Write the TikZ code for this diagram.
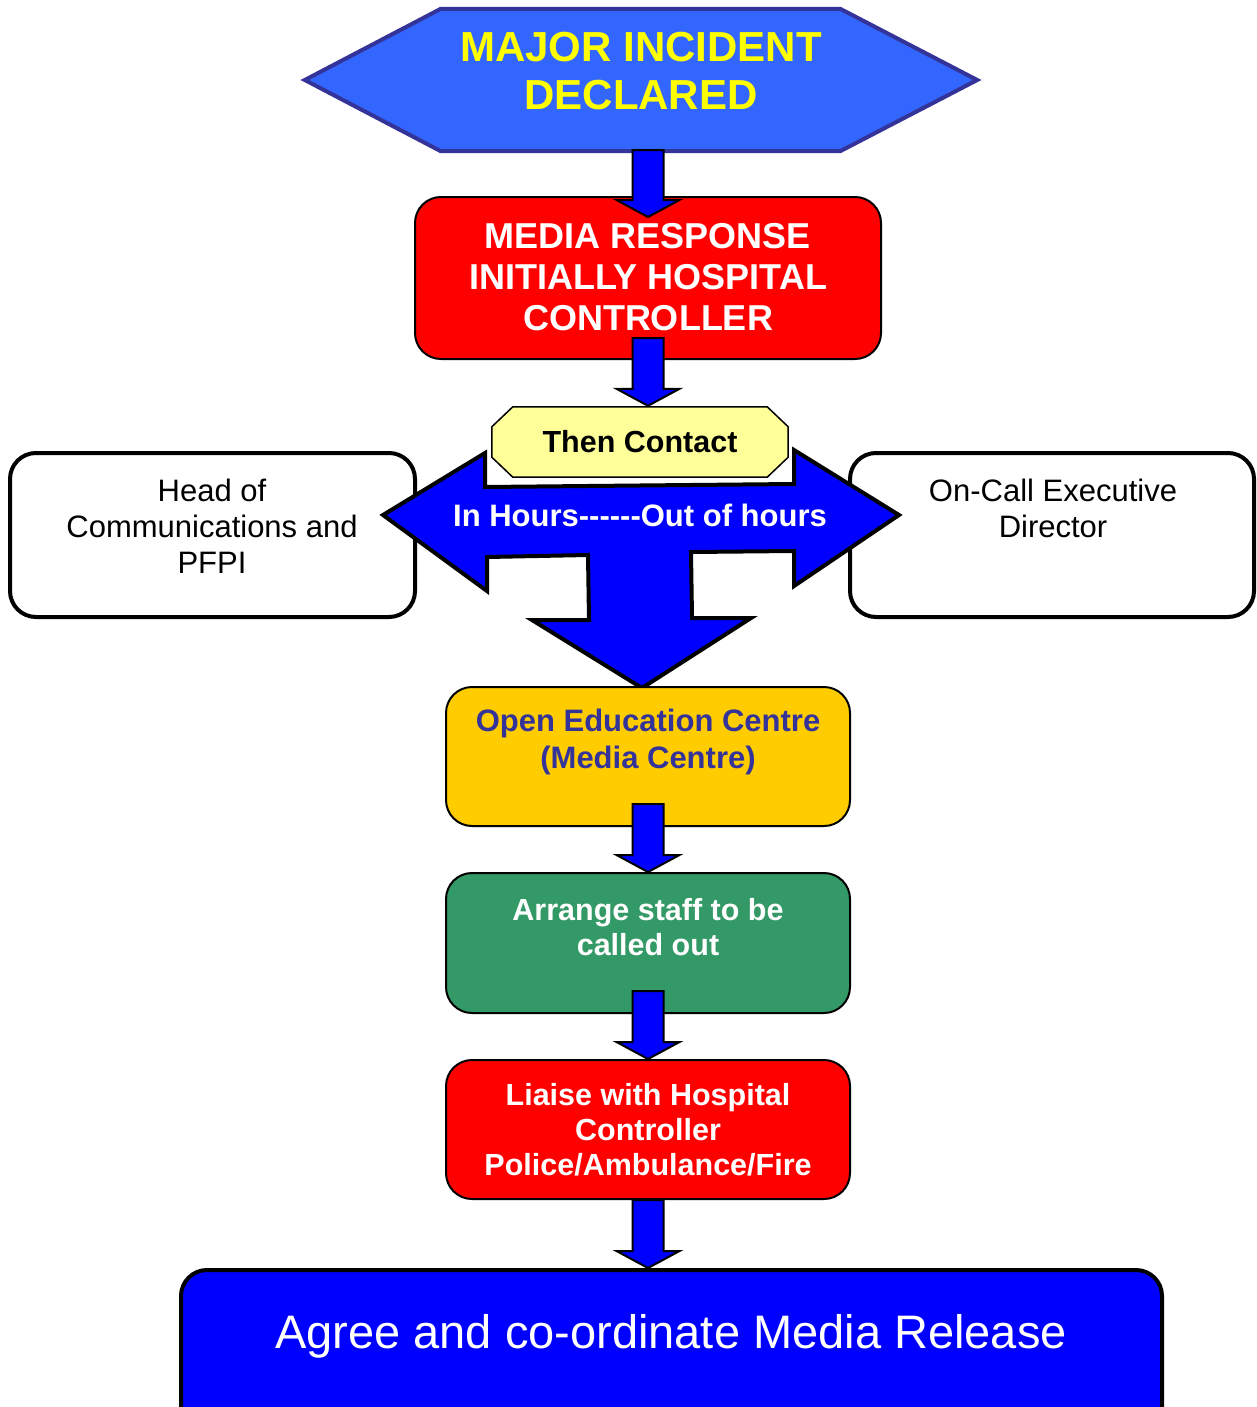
\documentclass[tikz,border=0pt]{standalone}
\usepackage{fontspec}
\setmainfont{Liberation Sans}
\usetikzlibrary{calc}

\definecolor{hexfill}{HTML}{3366FF}
\definecolor{hexline}{HTML}{333399}
\definecolor{titleyellow}{HTML}{FFFF00}
\definecolor{paleyellow}{HTML}{FFFF99}
\definecolor{amber}{HTML}{FFCC00}
\definecolor{indigo}{HTML}{333399}
\definecolor{seagreen}{HTML}{339966}
\definecolor{pureblue}{HTML}{0000FF}

% a single hyphen that is never joined into an en or em dash
\newcommand\hyph{\hbox{-}}

% Block arrow pointing down.
% #1 node giving the x position, #2 source node, #3 target node,
% #4 how far the shaft starts above the bottom of #2,
% #5 how far the tip reaches below the top of #3.
\newcommand\flowarrow[5]{%
  \draw[flowarrowstyle] let \p0=(#1.center), \p1=(#2.south), \p2=(#3.north) in
    (\x0-15.5pt,\y1+#4pt) -- (\x0+15.5pt,\y1+#4pt)
    -- (\x0+15.5pt,\y2-#5pt+17pt) -- (\x0+31.5pt,\y2-#5pt+17pt)
    -- (\x0,\y2-#5pt)
    -- (\x0-31.5pt,\y2-#5pt+17pt) -- (\x0-15.5pt,\y2-#5pt+17pt) -- cycle;}

\begin{document}
\begin{tikzpicture}[x=1pt,y=-1pt,
  shapebox/.style={draw=none,inner sep=0pt},
  roundbox/.style={draw=black,rounded corners=26pt,inner sep=0pt},
  flowarrowstyle/.style={draw=black,fill=pureblue,line width=2pt,line join=miter},
  boldtext/.style={font=\bfseries\fontsize{31}{36}\selectfont,align=center,inner sep=0pt},
  plaintext/.style={font=\fontsize{31}{36}\selectfont,align=center,inner sep=0pt}]

\useasboundingbox (0,0) rectangle (1256,1407);
\clip (0,0) rectangle (1256,1407);

% side boxes
\node[roundbox,line width=4pt,fill=white,minimum width=405pt,minimum height=164pt] (head) at (212.5,535) {};
\node[roundbox,line width=4pt,fill=white,minimum width=404pt,minimum height=164pt] (oncall) at (1052,535) {};
\node[plaintext] (headtext) at (212,526) {Head of\\Communications and\\PFPI};
\node[plaintext] (oncalltext) at (1053,508) {On-Call Executive\\Director};

% three-way arrow
\draw[draw=black,fill=pureblue,line width=4pt,line join=miter]
  (383,515) -- (485,453) -- (485,487) -- (794,484) -- (794,450) -- (899,515)
  -- (794,586) -- (794,551) -- (691,552) -- (692,618) -- (751,618) -- (642,688)
  -- (532,620) -- (589,620) -- (588,555) -- (487,557) -- (487,591) -- cycle;
\node[boldtext,font=\bfseries\fontsize{31}{36}\selectfont,text=white] (hours) at (640,515)
  {In Hours\hyph\hyph\hyph\hyph\hyph\hyph Out of hours};

% "Then Contact" octagon
\node[shapebox,minimum width=296pt,minimum height=70pt] (contact) at (640,442) {};
\draw[draw=black,fill=paleyellow,line width=1.5pt]
  ($(contact.north west)+(21,0)$) -- ($(contact.north east)+(-21,0)$)
  -- ($(contact.north east)+(0,20)$) -- ($(contact.south east)+(0,-20)$)
  -- ($(contact.south east)+(-21,0)$) -- ($(contact.south west)+(21,0)$)
  -- ($(contact.south west)+(0,-20)$) -- ($(contact.north west)+(0,20)$) -- cycle;
\node[boldtext,font=\bfseries\fontsize{30.5}{36}\selectfont] (contacttext) at (640,442) {Then Contact};

% hexagon
\node[shapebox,minimum width=672pt,minimum height=142pt] (incident) at (641,80) {};
\draw[draw=hexline,fill=hexfill,line width=4pt,line join=miter]
  (incident.west) -- ($(incident.north west)+(136,0)$) -- ($(incident.north east)+(-137,0)$)
  -- (incident.east) -- ($(incident.south east)+(-137,0)$) -- ($(incident.south west)+(136,0)$) -- cycle;
\node[boldtext,font=\bfseries\fontsize{42}{48}\selectfont,text=titleyellow] (incidenttext) at (641,71) {MAJOR INCIDENT\\DECLARED};

% flow boxes
\node[roundbox,line width=2pt,fill=red,minimum width=466pt,minimum height=162pt] (media) at (648,278) {};
\node[boldtext,font=\bfseries\fontsize{36}{41}\selectfont,text=white] (mediatext) at (648,277) {MEDIA RESPONSE\\INITIALLY HOSPITAL\\CONTROLLER};

\node[roundbox,line width=2pt,fill=amber,minimum width=404pt,minimum height=139pt] (education) at (648,756.5) {};
\node[boldtext,font=\bfseries\fontsize{31}{37}\selectfont,text=indigo] (educationtext) at (648,742) {Open Education Centre\\(Media Centre)};

\node[roundbox,line width=2pt,fill=seagreen,minimum width=404pt,minimum height=140pt] (staff) at (648,943) {};
\node[boldtext,font=\bfseries\fontsize{30.5}{35}\selectfont,text=white] (stafftext) at (648,927) {Arrange staff to be\\called out};

\node[roundbox,line width=2pt,fill=red,minimum width=404pt,minimum height=139pt] (liaise) at (648,1129.5) {};
\node[boldtext,font=\bfseries\fontsize{30.5}{35}\selectfont,text=white] (liaisetext) at (648,1130) {Liaise with Hospital\\Controller\\Police/Ambulance/Fire};

\node[roundbox,line width=4pt,fill=pureblue,minimum width=981pt,minimum height=170pt] (release) at (671.5,1355) {};
\node[plaintext,font=\fontsize{47}{52}\selectfont,text=white,anchor=base] (releasetext) at (671,1348) {Agree and co-ordinate Media Release};

% connectors
\flowarrow{media}{incident}{media}{1}{21}
\flowarrow{media}{media}{contact}{22}{-1}
\flowarrow{education}{education}{staff}{23}{0}
\flowarrow{staff}{staff}{liaise}{23}{0}
\flowarrow{liaise}{liaise}{release}{0}{0}

\end{tikzpicture}
\end{document}
